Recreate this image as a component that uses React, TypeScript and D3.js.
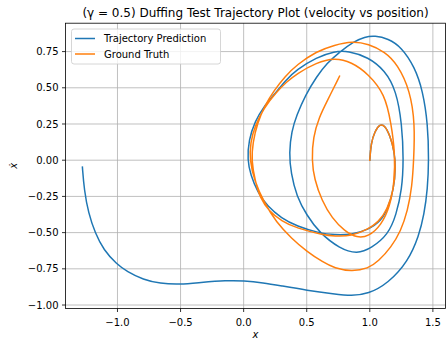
import React from "react";
import * as d3 from "d3";

const W = 446;
const H = 341;

const title = "(\u03b3 = 0.5) Duffing Test Trajectory Plot (velocity vs position)";
const xTicks = [-1.0, -0.5, 0.0, 0.5, 1.0, 1.5];
const xTickLabels = ["\u22121.0", "\u22120.5", "0.0", "0.5", "1.0", "1.5"];
const yTicks = [-1.0, -0.75, -0.5, -0.25, 0.0, 0.25, 0.5, 0.75];
const yTickLabels = ["\u22121.00", "\u22120.75", "\u22120.50", "\u22120.25", "0.00", "0.25", "0.50", "0.75"];
const seriesNames = ["Trajectory Prediction", "Ground Truth"];
const seriesColors = ["#1f77b4", "#ff7f0e"];

// Trajectory Prediction (x, xdot)
const prediction: [number, number][] = [
  [1.0, 0.0], [1.01, 0.12], [1.04, 0.2], [1.08, 0.25], [1.12, 0.24], [1.16, 0.17],
  [1.195, 0.06], [1.205, -0.05], [1.19, -0.2], [1.145, -0.33], [1.09, -0.42],
  [0.987, -0.48], [0.855, -0.515], [0.72, -0.515], [0.604, -0.505], [0.42, -0.455],
  [0.3, -0.4], [0.19, -0.32], [0.11, -0.22], [0.055, -0.1], [0.03, 0.0],
  [0.04, 0.14], [0.09, 0.27], [0.16, 0.37], [0.24, 0.45], [0.33, 0.55],
  [0.42, 0.625], [0.578, 0.71], [0.72, 0.752], [0.828, 0.755], [0.987, 0.712],
  [1.12, 0.62], [1.21, 0.48], [1.255, 0.25], [1.268, 0.0], [1.255, -0.2],
  [1.21, -0.377], [1.145, -0.515], [1.013, -0.607], [0.9, -0.648], [0.76, -0.61],
  [0.6, -0.5], [0.5, -0.38], [0.42, -0.25], [0.375, -0.09], [0.36, 0.05],
  [0.38, 0.2], [0.42, 0.31], [0.49, 0.45], [0.578, 0.577], [0.66, 0.67],
  [0.762, 0.748], [0.87, 0.818], [0.96, 0.852], [1.04, 0.86], [1.145, 0.84],
  [1.25, 0.782], [1.356, 0.643], [1.42, 0.48], [1.46, 0.25], [1.468, 0.0],
  [1.458, -0.2], [1.43, -0.377], [1.39, -0.52], [1.303, -0.7], [1.145, -0.85],
  [0.987, -0.924], [0.855, -0.937], [0.72, -0.924], [0.5, -0.898], [0.3, -0.868],
  [0.155, -0.846], [0.0, -0.832], [-0.135, -0.83], [-0.346, -0.845], [-0.504, -0.858],
  [-0.663, -0.852], [-0.795, -0.826], [-0.926, -0.768], [-1.006, -0.718],
  [-1.11, -0.62], [-1.177, -0.503], [-1.23, -0.366], [-1.264, -0.205], [-1.278, -0.048],
];

// Ground Truth (x, xdot)
const groundTruth: [number, number][] = [
  [1.0, 0.0], [1.01, 0.12], [1.04, 0.2], [1.08, 0.25], [1.12, 0.24], [1.16, 0.17],
  [1.195, 0.06], [1.205, -0.05], [1.19, -0.2], [1.14, -0.34], [1.066, -0.43],
  [0.987, -0.475], [0.855, -0.525], [0.72, -0.525], [0.63, -0.515], [0.42, -0.47],
  [0.3, -0.42], [0.2, -0.35], [0.13, -0.26], [0.09, -0.14], [0.062, 0.0],
  [0.072, 0.12], [0.11, 0.26], [0.17, 0.38], [0.24, 0.48], [0.33, 0.58],
  [0.42, 0.658], [0.578, 0.752], [0.72, 0.795], [0.86, 0.822], [0.99, 0.803],
  [1.12, 0.748], [1.22, 0.662], [1.32, 0.48], [1.358, 0.25], [1.348, 0.0],
  [1.335, -0.18], [1.3, -0.35], [1.245, -0.49], [1.17, -0.6], [1.066, -0.7],
  [0.987, -0.748], [0.855, -0.768], [0.72, -0.745], [0.63, -0.705], [0.5, -0.63],
  [0.38, -0.54], [0.26, -0.43], [0.16, -0.29], [0.085, -0.14], [0.048, 0.0],
  [0.053, 0.12], [0.09, 0.24], [0.16, 0.36], [0.26, 0.47], [0.34, 0.54],
  [0.42, 0.597], [0.578, 0.674], [0.72, 0.708], [0.855, 0.678], [0.987, 0.597],
  [1.12, 0.457], [1.17, 0.25], [1.2, 0.05], [1.195, -0.15], [1.16, -0.32],
  [1.09, -0.45], [0.99, -0.527], [0.9, -0.537], [0.8, -0.49], [0.7, -0.4],
  [0.62, -0.28], [0.56, -0.13], [0.54, 0.0], [0.55, 0.16], [0.6, 0.3],
  [0.657, 0.4], [0.76, 0.58],
];

const series = [prediction, groundTruth];

export default function App() {
  const left = 65.5, right = 445.5, top = 23.2, bottom = 308.5;
  const x = d3.scaleLinear().domain([-1.412, 1.6]).range([left, right]);
  const y = d3.scaleLinear().domain([-1.024, 0.946]).range([bottom, top]);
  const line = d3
    .line<[number, number]>()
    .x((d) => x(d[0]))
    .y((d) => y(d[1]))
    .curve(d3.curveBasis);
  const font = "DejaVu Sans, sans-serif";

  return (
    <svg
      width={W}
      height={H}
      style={{ position: "absolute", left: 0, top: 0, background: "#fff" }}
      fontFamily={font}
    >
      <rect x={0} y={0} width={W} height={H} fill="#fff" />
      <defs>
        <clipPath id="plotclip">
          <rect x={left} y={top} width={right - left} height={bottom - top} />
        </clipPath>
      </defs>
      {xTicks.map((t) => (
        <line key={"gx" + t} x1={x(t)} x2={x(t)} y1={top} y2={bottom} stroke="#b0b0b0" strokeWidth={0.8} />
      ))}
      {yTicks.map((t) => (
        <line key={"gy" + t} x1={left} x2={right} y1={y(t)} y2={y(t)} stroke="#b0b0b0" strokeWidth={0.8} />
      ))}
      <g clipPath="url(#plotclip)">
        {series.map((s, i) => (
          <path key={i} d={line(s) || ""} fill="none" stroke={seriesColors[i]} strokeWidth={1.5} strokeLinejoin="round" strokeLinecap="square" />
        ))}
      </g>
      <rect x={left} y={top} width={right - left} height={bottom - top} fill="none" stroke="#000" strokeWidth={0.8} />
      {xTicks.map((t, i) => (
        <g key={"xt" + t}>
          <line x1={x(t)} x2={x(t)} y1={bottom} y2={bottom + 3.5} stroke="#000" strokeWidth={0.8} />
          <text x={x(t)} y={bottom + 17.5} fontSize={10} textAnchor="middle" fill="#000">
            {xTickLabels[i]}
          </text>
        </g>
      ))}
      {yTicks.map((t, i) => (
        <g key={"yt" + t}>
          <line x1={left - 3.5} x2={left} y1={y(t)} y2={y(t)} stroke="#000" strokeWidth={0.8} />
          <text x={left - 7} y={y(t) + 3.6} fontSize={10} textAnchor="end" fill="#000">
            {yTickLabels[i]}
          </text>
        </g>
      ))}
      <text x={(left + right) / 2} y={338} fontSize={10} textAnchor="middle" fontStyle="italic" fill="#000">
        x
      </text>
      <text
        transform={`translate(17,${(top + bottom) / 2}) rotate(-90)`}
        fontSize={10}
        textAnchor="middle"
        fontStyle="italic"
        fill="#000"
      >
        {"x\u0307"}
      </text>
      <text x={(left + right) / 2} y={17} fontSize={12} textAnchor="middle" fill="#000">
        {title}
      </text>
      <g>
        <rect x={71.5} y={29} width={149} height={35} rx={2.5} fill="#fff" fillOpacity={0.8} stroke="#cccccc" strokeWidth={0.8} />
        {seriesNames.map((n, i) => (
          <g key={n}>
            <line x1={75} x2={95} y1={38.5 + i * 15.5} y2={38.5 + i * 15.5} stroke={seriesColors[i]} strokeWidth={1.5} />
            <text x={104} y={42 + i * 15.5} fontSize={10} fill="#000">
              {n}
            </text>
          </g>
        ))}
      </g>
    </svg>
  );
}
